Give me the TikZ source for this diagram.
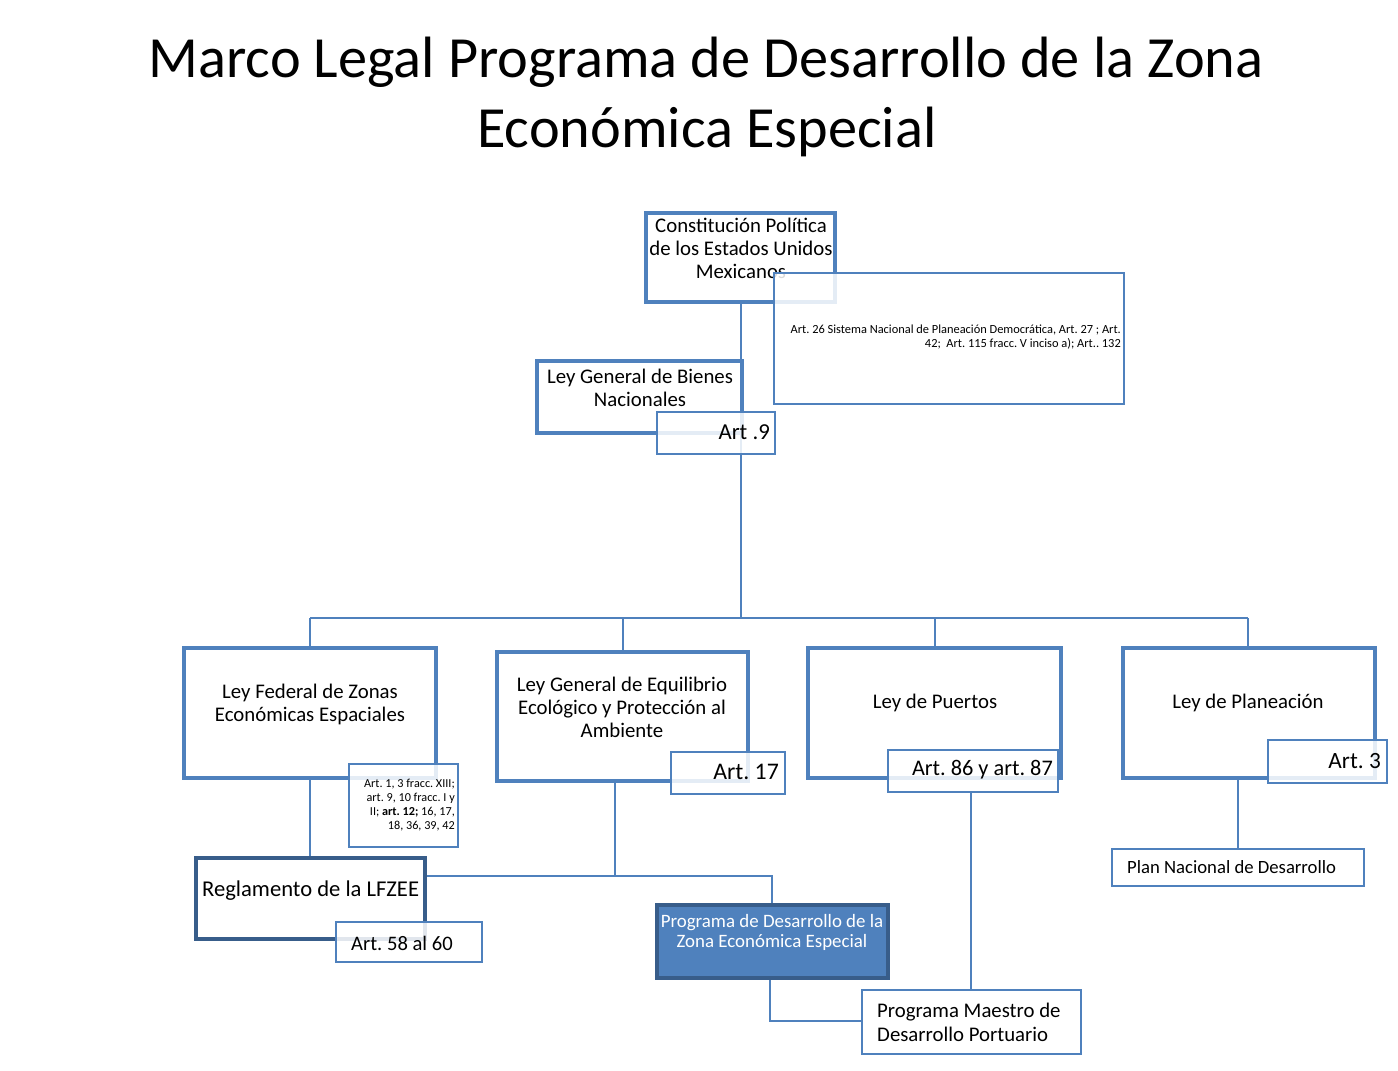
\documentclass[tikz,border=0pt]{standalone}
\usepackage{fontspec}
\setmainfont{Carlito}
\frenchspacing
\usetikzlibrary{calc}
\definecolor{boxblue}{RGB}{79,129,189}
\definecolor{darkblue}{RGB}{56,93,138}
\newcommand{\fsz}[2]{\fontsize{#1}{#2}\selectfont}
\begin{document}
\begin{tikzpicture}[x=1pt,y=-1pt,
  thickbox/.style={draw=boxblue, line width=3.5pt, fill=white, inner sep=0pt},
  darkbox/.style={draw=darkblue, line width=3.5pt, fill=white, inner sep=0pt},
  thinbox/.style={draw=boxblue, line width=1.6pt, fill=white, fill opacity=0.85, draw opacity=1, inner sep=0pt},
  conn/.style={draw=boxblue, line width=2pt},
  txt/.style={inner sep=0pt, text=black},
  mid/.style={txt, align=center, font=\fsz{20.8}{23}}
]
\useasboundingbox (0,0) rectangle (1398,1071);
\fill[white] (0,0) rectangle (1398,1071);

% title
\node[txt, anchor=base, font=\fsz{58.3}{70}] (title1) at (706,77) {Marco Legal Programa de Desarrollo de la Zona};
\node[txt, anchor=base, font=\fsz{58.3}{70}] (title2) at (707,147) {Económica Especial};

% coordinates for connectors
\coordinate (bus) at (741,618);
\coordinate (j2) at (772,876);

% Constitution box
\node[thickbox, minimum width=189pt, minimum height=89pt] (cons) at (740.5,257.5) {};

% connectors (behind boxes)
\draw[conn] (cons.south) -- (cons.south |- bus);
\draw[conn] (310,618) coordinate (b1) -- (1248,618) coordinate (b4);
\draw[conn] (b1) -- (310,648);
\draw[conn] (623,618) -- (623,652);
\draw[conn] (935,618) -- (935,648);
\draw[conn] (b4) -- (1248,648);

% Constitution text, then overlay box
\node[mid] (tcons) at (741,248) {Constitución Política\\de los Estados Unidos\\Mexicanos};
\node[thinbox, minimum width=350pt, minimum height=131pt] (art26) at (949,338.5) {};
\node[txt, anchor=east, align=right, font=\fsz{12.4}{14}] (tart26) at (1121,337) {Art. 26 Sistema Nacional de Planeación Democrática, Art. 27 ; Art.\\42;\ \ Art. 115 fracc. V inciso a); Art.. 132};

% Ley General de Bienes Nacionales
\node[thickbox, minimum width=205pt, minimum height=72pt] (bienes) at (639.5,397) {};
\node[mid] (tbienes) at (640,388) {Ley General de Bienes\\Nacionales};
\node[thinbox, minimum width=118pt, minimum height=42pt] (art9) at (716,433) {};
\node[txt, anchor=east, font=\fsz{22.8}{26}] (tart9) at (770,432) {Art .9};
\draw[conn] (art9.south -| cons.south) -- (cons.south |- bus);

% second-level connectors
\coordinate (lgeeline) at (615,781);
\draw[conn] (lgeeline) -- (lgeeline |- j2);
\draw[conn] (425,876) -- (j2) -- (772,905);
\draw[conn] (310,778) -- (310,858);
\draw[conn] (971,792) -- (971,990);
\draw[conn] (1238,778) -- (1238,849);
\draw[conn] (770,978) |- (862,1021);

% Ley Federal de Zonas
\node[thickbox, minimum width=252pt, minimum height=130pt] (lfze) at (310,713) {};
\node[mid] (tlfze) at (310,704) {Ley Federal de Zonas\\Económicas Espaciales};
\node[thinbox, minimum width=109pt, minimum height=83pt] (art1) at (403.5,805.5) {};
\node[txt, anchor=east, align=right, font=\fsz{12.2}{14}] (tart1) at (455,805) {Art. 1, 3 fracc. XIII;\\art. 9, 10 fracc. I y\\II; \textbf{art. 12;} 16, 17,\\18, 36, 39, 42};

% Reglamento
\node[darkbox, minimum width=229pt, minimum height=81pt] (regl) at (310.5,898.5) {};
\node[txt, anchor=west, font=\fsz{22.6}{26}] (tregl) at (202,891) {Reglamento de la LFZEE};
\node[thinbox, minimum width=146pt, minimum height=40pt] (art58) at (409,942) {};
\node[txt, anchor=west, font=\fsz{20.6}{24}] (tart58) at (351,943) {Art. 58 al 60};

% Ley General de Equilibrio
\node[thickbox, minimum width=251pt, minimum height=129pt] (lgee) at (622.5,716.5) {};
\node[mid] (tlgee) at (622,707) {Ley General de Equilibrio\\Ecológico y Protección al\\Ambiente};
\node[thinbox, minimum width=114pt, minimum height=42pt] (art17) at (728,773) {};
\node[txt, anchor=east, font=\fsz{23.8}{27}] (tart17) at (779,772) {Art. 17};

% Ley de Puertos
\node[thickbox, minimum width=253pt, minimum height=130pt] (puertos) at (934.5,713) {};
\node[mid] (tpuertos) at (935,703) {Ley de Puertos};
\node[thinbox, minimum width=170pt, minimum height=42pt] (art86) at (973,771) {};
\node[txt, anchor=east, font=\fsz{22.3}{26}] (tart86) at (1053,770) {Art. 86 y art. 87};

% Ley de Planeacion
\node[thickbox, minimum width=252pt, minimum height=130pt] (plan) at (1249,713) {};
\node[mid] (tplan) at (1248,703) {Ley de Planeación};
\node[thinbox, minimum width=119pt, minimum height=43pt] (art3) at (1327.5,761.5) {};
\node[txt, anchor=east, font=\fsz{23.3}{27}] (tart3) at (1381,761) {Art. 3};

% Plan Nacional
\node[thinbox, fill opacity=1, minimum width=252pt, minimum height=37pt] (pnd) at (1238,867.5) {};
\node[txt, anchor=west, font=\fsz{18.7}{22}] (tpnd) at (1127,867) {Plan Nacional de Desarrollo};

% Programa de Desarrollo (filled)
\node[draw=darkblue, line width=3.5pt, fill=boxblue, inner sep=0pt, minimum width=231pt, minimum height=73pt] (prog) at (772.5,941.5) {};
\node[txt, text=white, align=center, font=\fsz{18.9}{20}] (tprog) at (772,932) {Programa de Desarrollo de la\\Zona Económica Especial};

% Programa Maestro
\node[thinbox, fill opacity=1, minimum width=219pt, minimum height=64pt] (pmdp) at (971.5,1022) {};
\node[txt, anchor=west, align=left, font=\fsz{20.8}{24}] (tpmdp) at (877,1022) {Programa Maestro de\\Desarrollo Portuario};
\end{tikzpicture}
\end{document}
